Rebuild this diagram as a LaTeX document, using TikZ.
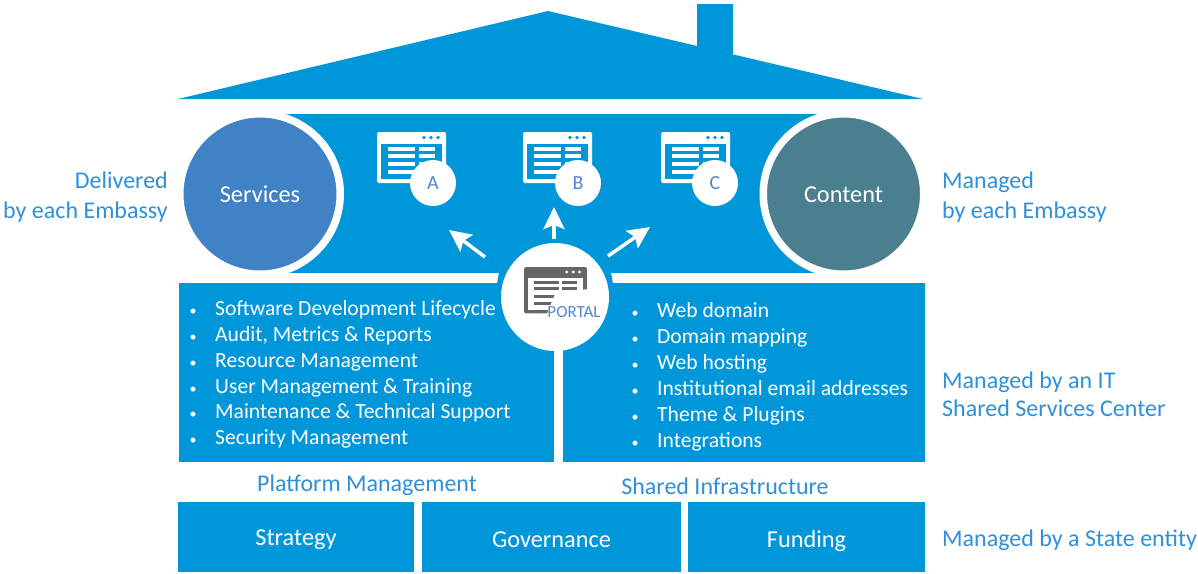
\documentclass[tikz,border=0pt]{standalone}
\usepackage{fontspec}
\setmainfont{Carlito}
\usetikzlibrary{arrows.meta}

\definecolor{houseblue}{HTML}{0096DA}
\definecolor{servblue}{HTML}{3F82C5}
\definecolor{contteal}{HTML}{4A7F8F}
\definecolor{labelblue}{HTML}{2F8FD8}
\definecolor{letterblue}{HTML}{4F86D6}
\definecolor{icongray}{HTML}{666666}

\tikzset{
  block/.style={fill=houseblue, text=white, font=\fontsize{24.3}{28}\selectfont, inner sep=0pt, outer sep=0pt, text height=21pt, text depth=0pt},
  bigcirc/.style={circle, draw=white, line width=7.5pt, minimum size=160.5pt, inner sep=0pt, outer sep=0pt, text=white, font=\fontsize{24.3}{28}\selectfont, text height=16pt, text depth=0pt},
  badge/.style={circle, fill=white, minimum size=46pt, inner sep=0pt, outer sep=0pt, text=letterblue, font=\fontsize{20}{24}\selectfont},
  sidelabel/.style={text=labelblue, inner sep=0pt, font=\fontsize{24}{29.5}\selectfont},
  listitem/.style={text=white, anchor=base west, inner sep=0pt, font=\fontsize{21.6}{26}\selectfont, execute at begin node={\llap{\fontsize{14}{16}\selectfont•\hspace{18.5pt}}}},
  flow/.style={-{Stealth[length=22pt,width=21pt,inset=4pt]}, draw=white, line width=3.5pt},
  pics/windowicon/.style n args={2}{code={
    \fill[#1, rounded corners=1.5pt] (0,0) rectangle (69,51);
    \fill[#2] (4,12) rectangle (65,47);
    \foreach \rowy in {17,24,32,40} {
      \fill[#1] (11,\rowy-1.7) rectangle (38,\rowy+1.7);
      \fill[#1] (42,\rowy-1.7) rectangle (58,\rowy+1.7);
    }
    \foreach \dotx in {47,54,61} {
      \fill[#2] (\dotx,5.5) circle (1.8);
    }
  }}
}

\begin{document}
\begin{tikzpicture}[x=1pt, y=-1pt]
        \useasboundingbox (0,0) rectangle (1198,573);

        % roof and chimney
        \fill[houseblue] (697,4) rectangle (733,60);
        \fill[houseblue] (178,99) -- (548,11) -- (923,99) -- cycle;

        % middle band
        \node[block, minimum width=583pt, minimum height=159pt] (band) at (551.5,193.5) {};
        \node[bigcirc, fill=servblue] (services) at (260,194) {Services};
        \node[bigcirc, fill=contteal] (content) at (843.5,194) {Content};

        % sites
        \pic at (377,132) {windowicon={white}{houseblue}};
        \pic at (523,132) {windowicon={white}{houseblue}};
        \pic at (661,132) {windowicon={white}{houseblue}};
        \node[badge] (a) at (433,183) {A};
        \node[badge] (b) at (578,183) {B};
        \node[badge] (c) at (715,183) {C};

        % lower panels
        \node[block, minimum width=375pt, minimum height=179pt] (platform) at (366.5,372.5) {};
        \node[block, minimum width=362pt, minimum height=179pt] (infra) at (744,372.5) {};
        \fill[houseblue] (499,272) -- (611,272) -- (613,284) -- (497,284) -- cycle;

        % portal
        \node[circle, fill=white, minimum size=108pt, inner sep=0pt, outer sep=0pt] (portal) at (555,297) {};
        \pic[scale=0.91] at (524,267) {windowicon={icongray}{white}};
        \fill[white] (546,316) -- (556,292) -- (590,289) -- (590,316) -- cycle;
        \node[text=letterblue, inner sep=0pt, font=\fontsize{17}{20}\selectfont] (portaltext) at (574,312.5) {PORTAL};

        % arrows
        \coordinate (atail) at (485,257);
        \coordinate (ahead) at (449,230);
        \coordinate (btail) at (554,239);
        \coordinate (bhead) at (554,207);
        \coordinate (ctail) at (608,256);
        \coordinate (chead) at (650,227);
        \draw[flow] (atail) -- (ahead);
        \draw[flow] (btail) -- (bhead);
        \draw[flow] (ctail) -- (chead);

        % left list
        \node[listitem] (sdlc) at (215,315) {Software Development Lifecycle};
        \node[listitem] (audit) at (215,341) {Audit, Metrics \& Reports};
        \node[listitem] (resource) at (215,367) {Resource Management};
        \node[listitem] (user) at (215,393) {User Management \& Training};
        \node[listitem] (maint) at (215,418) {Maintenance \& Technical Support};
        \node[listitem] (security) at (215,444) {Security Management};

        % right list
        \node[listitem] (domain) at (657,317) {Web domain};
        \node[listitem] (mapping) at (657,343) {Domain mapping};
        \node[listitem] (hosting) at (657,369) {Web hosting};
        \node[listitem] (email) at (657,395) {Institutional email addresses};
        \node[listitem] (theme) at (657,421) {Theme \& Plugins};
        \node[listitem] (integ) at (657,447) {Integrations};

        % foundation
        \node[sidelabel] (platformlabel) at (367,485) {Platform Management};
        \node[sidelabel] (infralabel) at (725,486) {Shared Infrastructure};
        \node[block, minimum width=236pt, minimum height=70pt, text height=17pt] (strategy) at (296,536.5) {Strategy};
        \node[block, minimum width=259pt, minimum height=70pt] (governance) at (551.5,536.5) {Governance};
        \node[block, minimum width=237pt, minimum height=70pt] (funding) at (806.5,536.5) {Funding};

        % side labels
        \node[sidelabel, align=right, anchor=east] (delivered) at (168,197) {Delivered\\by each Embassy};
        \node[sidelabel, align=left, anchor=west] (managedone) at (942,197) {Managed\\by each Embassy};
        \node[sidelabel, align=left, anchor=west] (managedtwo) at (942,394) {Managed by an IT\\[-1.5pt]Shared Services Center};
        \node[sidelabel, anchor=west] (managedthree) at (942,540) {Managed by a State entity};
\end{tikzpicture}
\end{document}
